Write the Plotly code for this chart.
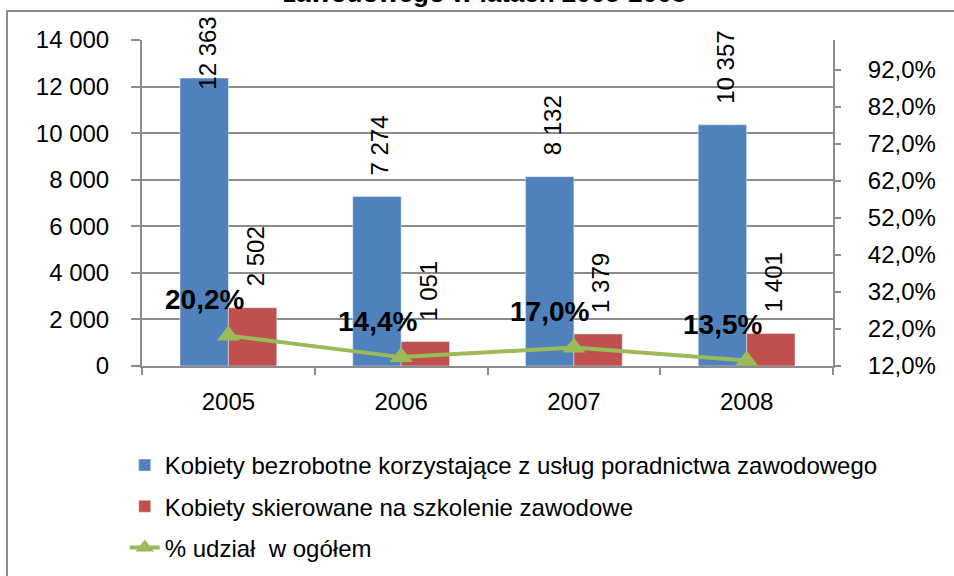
import plotly.graph_objects as go

# ---- data ----
years = ["2005", "2006", "2007", "2008"]
counselling = [12363, 7274, 8132, 10357]
training = [2502, 1051, 1379, 1401]
share_pct = [20.2, 14.4, 17.0, 13.5]
share_labels = ["20,2%", "14,4%", "17,0%", "13,5%"]

left_tickvals = [0, 2000, 4000, 6000, 8000, 10000, 12000, 14000]
left_ticktext = ["0", "2 000", "4 000", "6 000", "8 000", "10 000", "12 000", "14 000"]
right_tickvals = [12, 22, 32, 42, 52, 62, 72, 82, 92]
right_ticktext = ["12,0%", "22,0%", "32,0%", "42,0%", "52,0%", "62,0%", "72,0%", "82,0%", "92,0%"]

name_a = "Kobiety bezrobotne korzystające z usług poradnictwa zawodowego"
name_b = "Kobiety skierowane na szkolenie zawodowe"
name_c = "% udział  w ogółem"
title_line = "zawodowego w latach 2005-2008"

# ---- styles ----
BLUE = "#4F81BD"
RED = "#C0504D"
GREEN = "#9BBB59"
GRAY = "#8c8c8c"
FONT = "Arial, Liberation Sans, sans-serif"
YMAX = 14000
BARGAP = 0.44

fig = go.Figure()
fig.add_trace(go.Bar(x=years, y=counselling, name=name_a, marker_color=BLUE,
                     legendgroup="a"))
fig.add_trace(go.Bar(x=years, y=training, name=name_b, marker_color=RED,
                     legendgroup="b"))
fig.add_trace(go.Scatter(x=years, y=share_pct, name=name_c, yaxis="y2",
                         mode="lines+markers", legendgroup="c",
                         line=dict(color=GREEN, width=4),
                         marker=dict(symbol="triangle-up", size=20, color=GREEN)))

annotations = []
offset = (1 - BARGAP) / 4
for series, off in ((counselling, -offset), (training, offset)):
    for i, v in enumerate(series):
        txt = f"{v:,}".replace(",", " ")
        if v > 0.8 * YMAX:
            # label pushed inside chart area (as in the original)
            annotations.append(dict(x=i + off, xref="x", y=1, yref="paper",
                                    yanchor="top", yshift=25, xshift=3,
                                    text=txt, textangle=-90, showarrow=False,
                                    font=dict(size=24, color="black", family=FONT)))
        else:
            annotations.append(dict(x=i + off, xref="x", y=v, yref="y",
                                    yanchor="bottom", yshift=19, xshift=3,
                                    text=txt, textangle=-90, showarrow=False,
                                    font=dict(size=24, color="black", family=FONT)))

for i, (v, lab) in enumerate(zip(share_pct, share_labels)):
    annotations.append(dict(x=i, xref="x", y=v, yref="y2", xshift=-24, yshift=36,
                            text=f"<b>{lab}</b>", showarrow=False,
                            font=dict(size=28, color="black", family=FONT)))

annotations.append(dict(x=0.496, xref="paper", y=1.093, yref="paper",
                        yanchor="bottom", text=f"<b>{title_line}</b>",
                        showarrow=False,
                        font=dict(size=26, color="black", family=FONT)))

fig.update_layout(
    width=954, height=576,
    margin=dict(l=142, r=121, t=40, b=210, autoexpand=False),
    paper_bgcolor="white", plot_bgcolor="white",
    font=dict(family=FONT, size=24, color="black"),
    barmode="group", bargap=BARGAP, bargroupgap=0,
    showlegend=True,
    legend=dict(x=-0.025, y=-0.236, xanchor="left", yanchor="top",
                orientation="v", tracegroupgap=7,
                font=dict(size=24, family=FONT, color="black"),
                bgcolor="rgba(0,0,0,0)"),
    xaxis=dict(type="category", showline=True, linecolor=GRAY, linewidth=2,
               ticks="outside", tickson="boundaries", ticklen=7, tickwidth=2,
               tickcolor=GRAY, showgrid=False, ticklabelstandoff=13,
               tickfont=dict(size=24)),
    yaxis=dict(range=[0, YMAX], tickvals=left_tickvals, ticktext=left_ticktext,
               showgrid=True, gridcolor=GRAY, gridwidth=1.5,
               showline=True, linecolor=GRAY, linewidth=2,
               ticks="outside", ticklen=9, tickwidth=2, tickcolor=GRAY,
               zeroline=False, ticklabelstandoff=17, tickfont=dict(size=24)),
    yaxis2=dict(range=[12, 100], overlaying="y", side="right",
                tickvals=right_tickvals, ticktext=right_ticktext,
                showgrid=False, showline=True, linecolor=GRAY, linewidth=2,
                ticks="outside", ticklen=6, tickwidth=2, tickcolor=GRAY,
                zeroline=False, ticklabelstandoff=22, tickfont=dict(size=24)),
    annotations=annotations,
    shapes=[dict(type="rect", xref="paper", yref="paper",
                 x0=-0.1954, x1=1.4, y0=-0.9, y1=1.089,
                 line=dict(color=GRAY, width=2), fillcolor="rgba(0,0,0,0)",
                 layer="below")],
)

fig.write_html("out.html", config={"displayModeBar": False},
               post_script="document.body.style.margin='0';")
